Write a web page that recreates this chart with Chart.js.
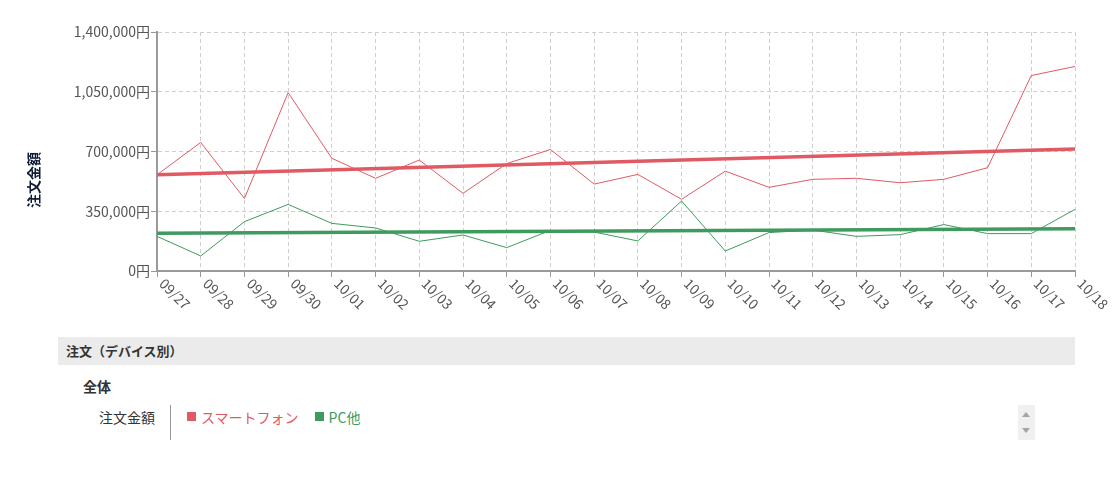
<!DOCTYPE html>
<html>
<head>
<meta charset="utf-8">
<script src="https://cdn.jsdelivr.net/npm/chart.js@4/dist/chart.umd.min.js"></script>
<style>
  html, body { margin: 0; padding: 0; background: #fff; }
  body { width: 1117px; height: 484px; position: relative; overflow: hidden;
         font-family: "Noto Sans CJK JP", "Noto Sans", sans-serif; color: #333; }
  #wrap { position: absolute; left: 0; top: 0; width: 1117px; height: 330px; }
  #ytitle { position: absolute; left: 33px; top: 180px; transform: translate(-50%, -50%) rotate(-90deg);
            font-size: 14px; font-weight: bold; color: #0d1b36; white-space: nowrap; }
  #hdr { position: absolute; left: 58px; top: 337px; width: 1009px; height: 28px; background: #ebebeb;
         font-weight: bold; font-size: 13px; line-height: 28px; padding-left: 8px; color: #333; }
  #all { position: absolute; left: 83px; top: 376px; font-weight: bold; font-size: 14px; line-height: 20px; color: #333; }
  #rowlab { position: absolute; left: 99px; top: 407px; font-size: 14px; line-height: 20px; color: #333; }
  #divider { position: absolute; left: 170px; top: 405px; width: 1px; height: 35px; background: #999; }
  #legend { position: absolute; left: 187px; top: 405px; font-size: 14px; line-height: 20px; white-space: nowrap; }
  .item { display: inline-flex; align-items: center; margin-right: 16px; }
  .sw { display: inline-block; width: 9px; height: 9px; margin-right: 5px; }
  #scroll { position: absolute; left: 1018px; top: 405px; width: 17px; height: 35px; background: #f0f0f0; }
  .arr { position: absolute; left: 4px; width: 0; height: 0; border-left: 4px solid transparent; border-right: 4px solid transparent; }
  #up { top: 7px; border-bottom: 5px solid #a5a5a5; }
  #down { top: 23px; border-top: 5px solid #a5a5a5; }
</style>
</head>
<body>
<div id="wrap"><canvas id="c" width="1117" height="330"></canvas></div>
<div id="ytitle">注文金額</div>
<div id="hdr">注文（デバイス別）</div>
<div id="all">全体</div>
<div id="rowlab">注文金額</div>
<div id="divider"></div>
<div id="legend"></div>
<div id="scroll"><div class="arr" id="up"></div><div class="arr" id="down"></div></div>
<script>
// ---- data ----
const categories = ['09/27','09/28','09/29','09/30','10/01','10/02','10/03','10/04','10/05','10/06','10/07',
                    '10/08','10/09','10/10','10/11','10/12','10/13','10/14','10/15','10/16','10/17','10/18'];
const smartphone = [564000, 753000, 425000, 1045000, 660000, 543000, 650000, 455000, 629000, 712000, 509000,
                    566000, 420000, 585000, 490000, 537000, 543000, 517000, 537000, 605000, 1145000, 1198000];
const pcOther = [203000, 88000, 289000, 390000, 279000, 252000, 174000, 211000, 137000, 238000, 228000,
                 176000, 410000, 117000, 225000, 240000, 203000, 213000, 272000, 219000, 219000, 361000];
// trend line end points (first and last category)
const smartphoneTrend = [564000, 714000];
const pcOtherTrend = [221000, 248000];
const yTickValues = [0, 350000, 700000, 1050000, 1400000];
const yTickLabels = ['0円', '350,000円', '700,000円', '1,050,000円', '1,400,000円'];
const seriesNames = ['スマートフォン', 'PC他'];

const RED = '#e05a64';
const GREEN = '#3f9a5e';
const FONT = '"Noto Sans CJK JP", "Noto Sans", sans-serif';

function endPoints(pair) {
  return categories.map((_, i) => i === 0 ? pair[0] : (i === categories.length - 1 ? pair[1] : null));
}

// legend (HTML)
const legend = document.getElementById('legend');
[[seriesNames[0], RED], [seriesNames[1], GREEN]].forEach(([name, col]) => {
  const s = document.createElement('span');
  s.className = 'item';
  s.style.color = col;
  s.innerHTML = '<span class="sw" style="background:' + col + '"></span>' + name;
  legend.appendChild(s);
});

const xLabelPlugin = {
  id: 'xLabels',
  afterDraw(chart) {
    const xs = chart.scales.x;
    const ctx = chart.ctx;
    ctx.save();
    ctx.font = '14px ' + FONT;
    ctx.fillStyle = '#555';
    ctx.textAlign = 'left';
    ctx.textBaseline = 'middle';
    categories.forEach((lab, i) => {
      const x = xs.getPixelForTick(i);
      ctx.save();
      ctx.translate(x + 5, xs.top + 10);
      ctx.rotate(Math.PI / 4);
      ctx.fillText(lab, 0, 0);
      ctx.restore();
    });
    ctx.restore();
  }
};

new Chart(document.getElementById('c'), {
  type: 'line',
  data: {
    labels: categories,
    datasets: [
      { label: seriesNames[0], data: smartphone, borderColor: RED, borderWidth: 1, pointRadius: 0, tension: 0, order: 2 },
      { label: seriesNames[1], data: pcOther, borderColor: GREEN, borderWidth: 1, pointRadius: 0, tension: 0, order: 2 },
      { label: seriesNames[0] + ' trend', data: endPoints(smartphoneTrend), spanGaps: true, borderColor: RED, borderWidth: 3.5, pointRadius: 0, order: 1 },
      { label: seriesNames[1] + ' trend', data: endPoints(pcOtherTrend), spanGaps: true, borderColor: GREEN, borderWidth: 3.5, pointRadius: 0, order: 1 }
    ]
  },
  options: {
    responsive: false,
    animation: false,
    events: [],
    layout: { padding: { left: 0, right: 42, top: 32, bottom: 0 } },
    plugins: { legend: { display: false }, tooltip: { enabled: false } },
    scales: {
      x: {
        type: 'category',
        offset: false,
        grid: { color: '#cfcfcf', lineWidth: 1, tickLength: 6, tickColor: '#999', tickBorderDash: [] },
        border: { color: '#9a9a9a', width: 2, dash: [4, 3] },
        ticks: { color: 'rgba(0,0,0,0)', autoSkip: false, minRotation: 0, maxRotation: 0, font: { size: 13, family: FONT } },
        afterFit: (s) => { s.height = 59; }
      },
      y: {
        min: 0, max: yTickValues[yTickValues.length - 1],
        afterBuildTicks: (s) => { s.ticks = yTickValues.map(v => ({ value: v })); },
        grid: { color: '#cfcfcf', lineWidth: 1, tickLength: 6, tickColor: '#999', tickBorderDash: [] },
        border: { color: '#9a9a9a', width: 2, dash: [4, 3] },
        ticks: {
          color: '#555', padding: 1, font: { size: 14, family: FONT },
          callback: (v) => yTickLabels[yTickValues.indexOf(v)]
        },
        afterFit: (s) => { s.width = 157; }
      }
    }
  },
  plugins: [xLabelPlugin]
});
</script>
</body>
</html>
